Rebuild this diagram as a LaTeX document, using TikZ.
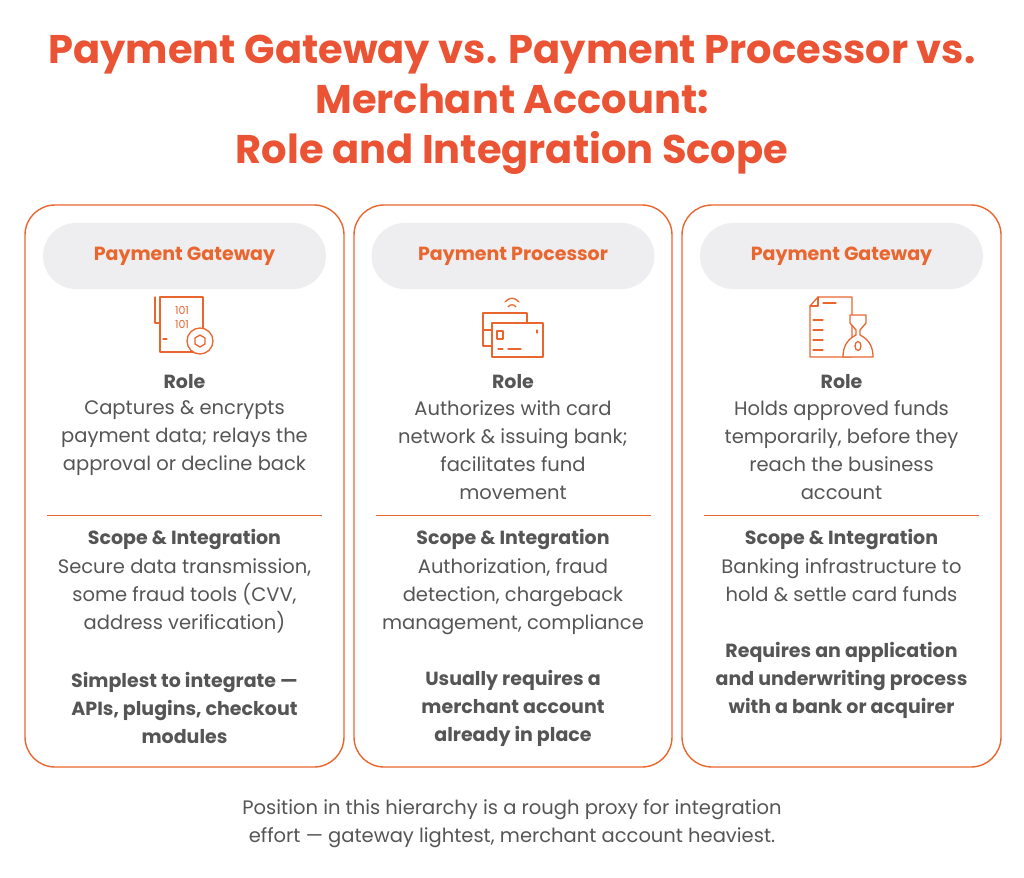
\documentclass[tikz,border=0pt]{standalone}
\usepackage{fontspec}
\setmainfont{Poppins}
\usetikzlibrary{positioning}
\definecolor{brand}{HTML}{E9662F}
\definecolor{titlered}{HTML}{EA5334}
\definecolor{pill}{HTML}{EEEEF0}
\definecolor{ink}{HTML}{555555}
\tikzset{
  card/.style    = {draw=brand, line width=1.4pt, rounded corners=30pt},
  pillbox/.style = {fill=pill, rounded corners=33pt, minimum width=283pt, minimum height=66pt,
                    font=\fontsize{19}{22}\selectfont\bfseries, text=brand},
  head/.style    = {font=\fontsize{19}{28}\selectfont\bfseries, text=ink, align=center, inner sep=0pt},
  body/.style    = {font=\fontsize{19.5}{28}\selectfont, text=ink, align=center, inner sep=0pt},
  rule/.style    = {draw=brand, line width=1pt},
  icon/.style    = {draw=brand, line width=1.3pt, line join=round, line cap=round}
}
\begin{document}
\begin{tikzpicture}[x=1pt,y=-1pt]
\useasboundingbox (0,0) rectangle (1024,877);

% title
\node[font=\fontsize{40}{50}\selectfont\bfseries, text=titlered, align=center] (title) at (512,105)
  {Payment Gateway vs. Payment Processor vs.\\Merchant Account:\\Role and Integration Scope};

% cards
\draw[card] (25,205) rectangle (344,767);
\draw[card] (354,205) rectangle (672,767);
\draw[card] (682,205) rectangle (1001,767);

\node[pillbox] (gw) at (184.5,256) {Payment Gateway};
\node[pillbox] (pp) at (513,256) {Payment Processor};
\node[pillbox] (ma) at (841.5,256) {Payment Gateway};

% icons
\draw[icon] (160,297) rectangle (203,352);
\draw[icon] (155,297) -- (155,323) -- (160,323);
\node[font=\fontsize{11}{14}\selectfont, text=brand, align=center, inner sep=0pt] (bits) at (182,317) {101\\101};
\draw[icon] (163,339) -- (167,339);
\draw[icon, fill=white] (200,341) circle (13);
\draw[icon] (200,335) -- (205,338) -- (205,344) -- (200,347) -- (195,344) -- (195,338) -- cycle;

\draw[icon] (483,313) rectangle (527,346);
\draw[icon] (483,330) -- (492,330);
\draw[icon, fill=white] (492,323) rectangle (543,357);
\draw[icon] (497,331) rectangle (503,339);
\draw[icon] (498,349) -- (503,349) (508,349) -- (521,349) (537,330) -- (537,333);
\draw[icon] (505,302) .. controls (509,297) and (515,297) .. (519,302);
\draw[icon] (508,307) .. controls (510,304) and (514,304) .. (516,307);

\draw[icon] (818,297) -- (852,297) -- (852,357) -- (810,357) -- (810,306) -- cycle;
\draw[icon] (818,297) -- (818,306) -- (810,306);
\draw[icon] (823,303) -- (836,303);
\foreach \yy in {320,330,340,350} \draw[icon] (813,\yy) -- (823,\yy);
\draw[icon, fill=white] (850,315) -- (866,315) -- (866,323) -- (860,330) -- (860,335)
  .. controls (870,340) and (873,348) .. (873,357) -- (843,357)
  .. controls (843,348) and (846,340) .. (856,335) -- (856,330) -- (850,323) -- cycle;
\draw[icon] (858,346) ellipse (3 and 4.5);

% role
\node[head] (r1) at (184.5,382) {Role};
\node[body, below=11pt of r1.south, anchor=north] (rt1) {Captures \& encrypts\\payment data; relays the\\approval or decline back};
\node[head] (r2) at (513,382) {Role};
\node[body, below=11pt of r2.south, anchor=north] (rt2) {Authorizes with card\\network \& issuing bank;\\facilitates fund\\movement};
\node[head] (r3) at (841.5,382) {Role};
\node[body, below=11pt of r3.south, anchor=north] (rt3) {Holds approved funds\\temporarily, before they\\reach the business\\account};

\draw[rule] (47,515) -- (322,515);
\draw[rule] (376,515) -- (651,515);
\draw[rule] (704,515) -- (979,515);

% scope
\node[head] (s1) at (184.5,539) {Scope \& Integration};
\node[body, below=9pt of s1.south, anchor=north] (st1) {Secure data transmission,\\some fraud tools (CVV,\\address verification)};
\node[head] (s2) at (513,539) {Scope \& Integration};
\node[body, below=9pt of s2.south, anchor=north] (st2) {Authorization, fraud\\detection, chargeback\\management, compliance};
\node[head] (s3) at (841.5,539) {Scope \& Integration};
\node[body, below=9pt of s3.south, anchor=north] (st3) {Banking infrastructure to\\hold \& settle card funds};

\node[head] (e1) at (184.5,708) {Simplest to integrate —\\APIs, plugins, checkout\\modules};
\node[head] (e2) at (513,708) {Usually requires a\\merchant account\\already in place};
\node[head] (e3) at (841.5,680) {Requires an application\\and underwriting process\\with a bank or acquirer};

% footer
\node[body, font=\fontsize{19.5}{28}\selectfont] (note) at (512,824)
  {Position in this hierarchy is a rough proxy for integration\\effort — gateway lightest, merchant account heaviest.};
\end{tikzpicture}
\end{document}
